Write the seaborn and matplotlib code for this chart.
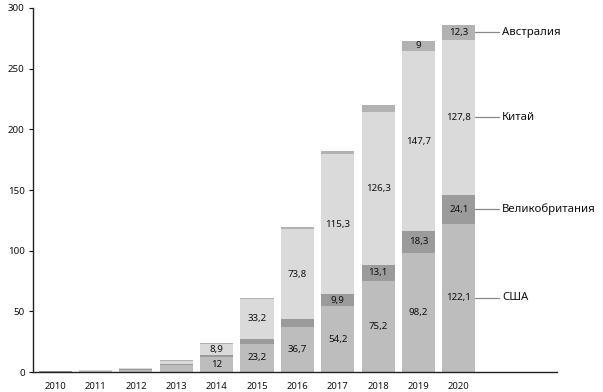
import matplotlib
matplotlib.use("Agg")
import matplotlib.pyplot as plt
import seaborn as sns
import pandas as pd
import numpy as np

years = [str(y) for y in range(2010, 2021)]
usa = [0.4, 1.0, 1.9, 5.5, 12, 23.2, 36.7, 54.2, 75.2, 98.2, 122.1]
uk = [0.1, 0.2, 0.4, 1.1, 1.8, 4.0, 7.0, 9.9, 13.1, 18.3, 24.1]
china = [0.1, 0.3, 0.7, 2.8, 8.9, 33.2, 73.8, 115.3, 126.3, 147.7, 127.8]
aus = [0.1, 0.2, 0.3, 0.5, 1.0, 1.0, 1.8, 3.0, 5.5, 9, 12.3]
series_names = ["США", "Великобритания", "Китай", "Австралия"]
labeled_usa = [None, None, None, None, 12, 23.2, 36.7, 54.2, 75.2, 98.2, 122.1]
labeled_uk = [None] * 7 + [9.9, 13.1, 18.3, 24.1]
labeled_china = [None] * 4 + [8.9, 33.2, 73.8, 115.3, 126.3, 147.7, 127.8]
labeled_aus = [None] * 9 + [9, 12.3]

colors = {"США": "#bdbdbd", "Великобритания": "#9b9b9b", "Китай": "#dadada", "Австралия": "#b2b2b2"}

sns.set_theme(style="white")
plt.rcParams["font.family"] = ["Noto Sans", "DejaVu Sans"]

df = pd.DataFrame({"year": years, "США": usa, "Великобритания": uk, "Китай": china, "Австралия": aus})
cum = df[series_names].cumsum(axis=1)

fig = plt.figure(figsize=(6.03, 3.92), dpi=100)
ax = fig.add_axes([0.0547, 0.051, 0.869, 0.9286])

for name in reversed(series_names):
    sns.barplot(x=df["year"], y=cum[name], order=years, color=colors[name],
                width=0.82, saturation=1, ax=ax, linewidth=0, zorder=2)

def fmt(v):
    if float(v).is_integer():
        return str(int(v))
    return f"{v:.1f}".replace(".", ",")

labels = [labeled_usa, labeled_uk, labeled_china, labeled_aus]
for i in range(len(years)):
    base = 0
    for k, name in enumerate(series_names):
        val = df[name][i]
        lab = labels[k][i]
        if lab is not None:
            ax.text(i, base + val / 2, fmt(lab), ha="center", va="center",
                    fontsize=7, color="#111111", zorder=5)
        base += val

# legend labels on the right of last bar
last = len(years) - 1
base = 0
for name in series_names:
    val = df[name][last]
    yc = base + val / 2
    ax.plot([last + 0.41, last + 1.0], [yc, yc], color="#888888", lw=0.9,
            clip_on=False, zorder=3)
    ax.text(last + 1.07, yc, name, ha="left", va="center", fontsize=8.2,
            color="#111111", clip_on=False)
    base += val

ax.set_xlim(-0.55, 12.43)
ax.set_ylim(0, 300)
ax.set_yticks([0, 50, 100, 150, 200, 250, 300])
ax.set_xlabel("")
ax.set_ylabel("")
for s in ["top", "right"]:
    ax.spines[s].set_visible(False)
for s in ["left", "bottom"]:
    ax.spines[s].set_color("#222222")
    ax.spines[s].set_linewidth(1.0)
ax.tick_params(axis="y", left=True, length=3, width=0.8, labelsize=7, pad=3, colors="#111111")
ax.tick_params(axis="x", bottom=False, labelsize=6.8, pad=1.5, colors="#111111")

fig.savefig("out.png", dpi=100)
